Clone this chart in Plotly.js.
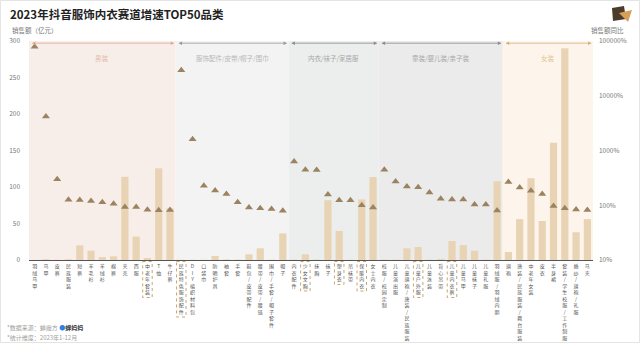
<!DOCTYPE html>
<html>
<head>
<meta charset="utf-8">
<script src="https://cdn.plot.ly/plotly-3.0.1.min.js"></script>
<style>
html,body{margin:0;padding:0;background:#fff;}
#chart{width:640px;height:343px;}
</style>
</head>
<body>
<div id="chart"></div>
<script>
// ---------- DATA ----------
const categories = [
  '羽绒马甲','马甲','皮裤','民族服装','短裤','羊毛衫','羊绒衫','棉裤','夹克','西服','中老年套装','T恤','牛仔裤',
  '民族特色服饰配件','DIY编织材料包','口袋巾','防晒护具','袖套','手套','鞋包/皮带配件','腰带/皮带/腰链','围巾/手套/帽子套件','帽子',
  '内衣配件','少女文胸','抹胸','袜子','塑身衣','吊袜带','保暖内衣','女士内衣',
  '校服/校园定制','儿童演出服','儿童旗袍/唐装/民族服装','儿童户外服','儿童泳装','背心吊带','儿童内衣裤','儿童马甲','儿童袜子','儿童礼服','羽绒服/羽绒内胆',
  '旗袍','唐装/民族服装/舞台服装','中老年女装','皮衣','半身裙','套装/学生校服/工作制服','婚纱/旗袍/礼服','马夹'
];
const groupNames = ['男装','服饰配件/皮带/帽子/围巾','内衣/袜子/家居服','童装/婴儿装/亲子装','女装'];
const groupSizes = [13, 10, 8, 11, 8];
// 销售额（亿元）
const sales = [
  0.2, 1, 0.3, 1, 20, 12.8, 4, 5, 114, 32, 2.7, 125.6, 70.8,
  0.3, 0.3, 0.3, 5.5, 0.8, 0.5, 7.8, 16, 0.5, 36.5,
  0.5, 7.8, 0.5, 82, 39.7, 0.3, 83, 113.7,
  0.5, 0.5, 16, 17.8, 0.5, 1.5, 26, 20.5, 12.8, 0.5, 108,
  11, 56, 112, 53.4, 160.7, 290, 38, 56
];
// 销售额同比（%）
const growth = [
  78700, 4200, 300, 126, 125, 119, 114, 107, 93, 93, 83, 81, 82,
  29300, 1600, 227, 186, 160, 114, 91, 88, 85, 79,
  630, 445, 440, 157, 124, 124, 100, 91,
  445, 272, 220, 214, 171, 131, 127, 127, 103, 103, 80,
  265, 211, 184, 160, 97, 88, 84, 82
];
const highlighted = ['中老年套装','民族特色服饰配件','少女文胸','塑身衣','保暖内衣','儿童户外服','儿童内衣裤'];
const leftTickVals = [0, 50, 100, 150, 200, 250, 300];
const rightTickVals = [10, 100, 1000, 10000, 100000];
const rightTickText = ['10%', '100%', '1000%', '10000%', '100000%'];

// ---------- STYLE ----------
const groupFill = ['#f8eee9', '#f3f3f3', '#eceeed', '#ebebeb', '#fdf5eb'];
const groupLine = ['#e3a892', '#9a9a9a', '#8c8c8c', '#8c8c8c', '#d9b07a'];
const groupTextColor = ['#e2b9a8', '#b8b8b8', '#a8a8a8', '#a8a8a8', '#e2c497'];
const barColor = '#e8d4b4';
const triColor = '#9b8261';
const labelFont = 5;
const pitch = labelFont * 1.3;
const plotH = 219; // px
const FONT = '"Noto Sans CJK SC", "Noto Sans", sans-serif';

const stack = s => Array.from(s).join('<br>');

const shapes = [];
const annotations = [];
let start = 0;
groupSizes.forEach((n, g) => {
  const x0 = start - 0.5, x1 = start + n - 0.5;
  shapes.push({type: 'rect', xref: 'x', yref: 'paper', x0: x0, x1: x1, y0: 0, y1: 1,
    fillcolor: groupFill[g], line: {width: 0}, layer: 'below'});
  annotations.push({xref: 'x', yref: 'paper', x: x1 - 0.12, y: 0.99, axref: 'x', ayref: 'pixel',
    ax: x0 + 0.12, ay: 0, text: '', showarrow: true, arrowside: 'end+start', arrowhead: 2,
    arrowsize: 0.9, arrowwidth: 0.8, arrowcolor: groupLine[g]});
  annotations.push({xref: 'x', yref: 'paper', x: (x0 + x1) / 2, y: 0.955, text: groupNames[g],
    showarrow: false, font: {family: FONT, size: 6.5, color: groupTextColor[g]}});
  start += n;
});

highlighted.forEach(name => {
  const i = categories.indexOf(name);
  const n = Array.from(name).length;
  const topPx = 1.5, botPx = 2 + n * pitch + 3;
  shapes.push({type: 'rect', xref: 'x', yref: 'paper', x0: i - 0.42, x1: i + 0.42,
    y0: -topPx / plotH, y1: -botPx / plotH, line: {color: '#c49a5c', width: 0.9, dash: 'dot'},
    fillcolor: 'rgba(0,0,0,0)'});
});

// figure border
shapes.push({type: 'rect', xref: 'paper', yref: 'paper', x0: -28.5/564, x1: 610.5/564,
  y0: (260-342.5)/plotH, y1: (260-0.5)/plotH, line: {color: '#e4e4e4', width: 1}, layer: 'below'});
// small logo top-right
shapes.push({type: 'path', xref: 'paper', yref: 'paper',
  path: `M ${(612-29)/564} ${(260-8)/plotH} L ${(624-29)/564} ${(260-6)/plotH} L ${(626-29)/564} ${(260-19)/plotH} L ${(613-29)/564} ${(260-21)/plotH} Z`,
  fillcolor: '#4b3b2b', line: {width: 0}});
shapes.push({type: 'path', xref: 'paper', yref: 'paper',
  path: `M ${(619-29)/564} ${(260-13)/plotH} L ${(632-29)/564} ${(260-10)/plotH} L ${(628-29)/564} ${(260-22)/plotH} Z`,
  fillcolor: '#d6a05a', line: {width: 0}});

annotations.push({xref: 'paper', yref: 'paper', x: -19/564, y: (260-30)/plotH, xanchor: 'left', yanchor: 'middle',
  text: '销售额（亿元）', showarrow: false, font: {family: FONT, size: 6.5, color: '#777'}});
annotations.push({xref: 'paper', yref: 'paper', x: 1 + 33/564, y: (260-30)/plotH, xanchor: 'right', yanchor: 'middle',
  text: '销售额同比', showarrow: false, font: {family: FONT, size: 6.5, color: '#777'}});
annotations.push({xref: 'paper', yref: 'paper', x: -24/564, y: (260-327)/plotH, xanchor: 'left', yanchor: 'middle',
  text: '*数据来源：蝉魔方 <span style="color:#2f7fe6">●</span><span style="color:#333"><b>蝉妈妈</b></span>',
  showarrow: false, font: {family: FONT, size: 6, color: '#a0a0a0'}});
annotations.push({xref: 'paper', yref: 'paper', x: -24/564, y: (260-337)/plotH, xanchor: 'left', yanchor: 'middle',
  text: '*统计维度：2023年1-12月', showarrow: false, font: {family: FONT, size: 6, color: '#a0a0a0'}});

const traces = [
  {type: 'bar', x: categories, y: sales, yaxis: 'y', marker: {color: barColor}, hoverinfo: 'x+y'},
  {type: 'scatter', mode: 'markers', x: categories, y: growth, yaxis: 'y2',
    marker: {symbol: 'triangle-up', size: 7, color: triColor}}
];

const layout = {
  width: 640, height: 343,
  margin: {l: 29, r: 47, t: 41, b: 83},
  paper_bgcolor: '#ffffff', plot_bgcolor: 'rgba(0,0,0,0)',
  showlegend: false,
  bargap: 0.36,
  font: {family: FONT, color: '#666'},
  title: {text: '2023年抖音服饰内衣赛道增速TOP50品类', x: 10/640, xanchor: 'left', y: 1 - 15/343, yanchor: 'middle',
    font: {family: FONT, size: 11.5, color: '#222', weight: 700}},
  xaxis: {type: 'category', tickvals: categories, ticktext: categories.map(stack),
    tickfont: {family: FONT, size: labelFont, color: '#555'}, tickangle: 0,
    showline: true, linecolor: '#555', linewidth: 1, showgrid: false, zeroline: false,
    range: [-0.5, categories.length - 0.5], ticks: '', ticklabelstandoff: 1, fixedrange: true},
  yaxis: {range: [0, 300], tickvals: leftTickVals, showgrid: false, zeroline: false, showline: false,
    tickfont: {family: FONT, size: 6.5, color: '#777'}, ticks: '', ticklabelstandoff: 8},
  yaxis2: {type: 'log', range: [1, 5], overlaying: 'y', side: 'right', tickvals: rightTickVals, ticktext: rightTickText,
    showgrid: false, zeroline: false, showline: false, tickfont: {family: FONT, size: 6.5, color: '#777'},
    ticks: '', ticklabelstandoff: 5},
  shapes: shapes,
  annotations: annotations
};

Plotly.newPlot('chart', traces, layout, {displayModeBar: false, staticPlot: true});
</script>
</body>
</html>
